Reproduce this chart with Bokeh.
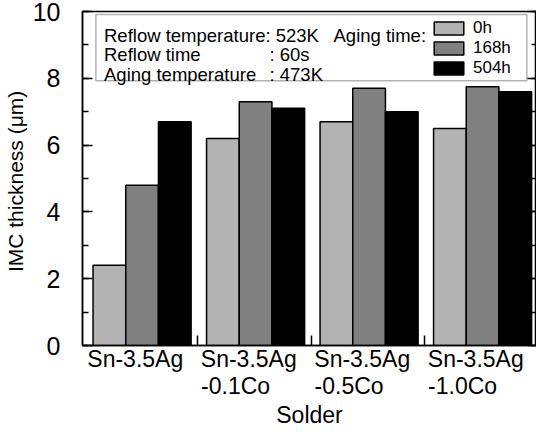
from bokeh.plotting import figure
from bokeh.models import (Range1d, LinearAxis, FixedTicker, SingleIntervalTicker,
                          ColumnDataSource, Label, Legend, LegendItem, BoxAnnotation,
                          CustomJSTickFormatter)
from bokeh.transform import dodge
from bokeh.embed import file_html
from bokeh.resources import INLINE

# ---- data ----
solders = ["Sn-3.5Ag", "Sn-3.5Ag-0.1Co", "Sn-3.5Ag-0.5Co", "Sn-3.5Ag-1.0Co"]
label_line1 = ["Sn-3.5Ag", "Sn-3.5Ag", "Sn-3.5Ag", "Sn-3.5Ag"]
label_line2 = ["", "-0.1Co", "-0.5Co", "-1.0Co"]
x_title = "Solder"
y_title = "IMC thickness  (\u03bcm)"
aging_times = ["0h", "168h", "504h"]
imc_0h = [2.4, 6.2, 6.7, 6.5]
imc_168h = [4.8, 7.3, 7.7, 7.75]
imc_504h = [6.7, 7.1, 7.0, 7.6]
y_ticks_interval = 2

FONT = "Liberation Sans"
n = len(solders)
pos = [i + 0.5 for i in range(n)]          # category centres on a numeric axis

p = figure(width=536, height=430,
           x_range=Range1d(0, n), y_range=Range1d(0, 10),
           x_axis_location=None,
           output_backend="svg", toolbar_location=None,
           min_border_left=77, min_border_right=0, min_border_top=11, min_border_bottom=84)
p.grid.grid_line_color = None
p.outline_line_color = "black"
p.outline_line_width = 1.5
p.background_fill_color = "white"
p.border_fill_color = "white"

# left axis
ya = p.yaxis[0]
ya.ticker = SingleIntervalTicker(interval=y_ticks_interval, num_minor_ticks=2)
ya.axis_label = y_title
ya.axis_label_text_font = FONT
ya.axis_label_text_font_size = "21px"
ya.axis_label_text_font_style = "normal"
ya.axis_label_text_color = "black"
ya.axis_label_standoff = 3
ya.major_label_text_font = FONT
ya.major_label_text_font_size = "25px"
ya.major_label_text_color = "black"
ya.major_label_standoff = 22
ya.major_tick_in = 10
ya.major_tick_out = 0
ya.minor_tick_in = 6
ya.minor_tick_out = 0
ya.axis_line_width = 1.5
ya.major_tick_line_width = 1.5
ya.minor_tick_line_width = 1.5

# right axis (ticks only)
ra = LinearAxis(ticker=SingleIntervalTicker(interval=y_ticks_interval, num_minor_ticks=2),
                formatter=CustomJSTickFormatter(code="return ''"),
                major_label_standoff=0, major_tick_in=9, major_tick_out=0,
                minor_tick_in=5, minor_tick_out=0, axis_line_width=1.5,
                major_tick_line_width=1.5, minor_tick_line_width=1.5)
p.add_layout(ra, "right")

# bottom axis 1: category separators + first line of the solder names
sep = [i + 0.017 for i in range(1, n)]
line1_pos = [i + 0.465 for i in range(n)]
ax1 = LinearAxis(ticker=FixedTicker(ticks=line1_pos, minor_ticks=sep),
                 formatter=CustomJSTickFormatter(args=dict(labels=label_line1),
                                                 code="return labels[index] ?? ''"),
                 major_tick_in=0, major_tick_out=0, minor_tick_in=10, minor_tick_out=0,
                 major_label_standoff=0, axis_line_width=1.5, minor_tick_line_width=1.5,
                 major_label_text_font=FONT, major_label_text_font_size="23px",
                 major_label_text_color="black")
p.add_layout(ax1, "below")

# bottom axis 2: second line of the solder names
line2_pos = [i + 0.349 for i in range(n)]
ax2 = LinearAxis(ticker=FixedTicker(ticks=line2_pos, minor_ticks=[]),
                 formatter=CustomJSTickFormatter(args=dict(labels=label_line2),
                                                 code="return labels[index] ?? ''"),
                 major_tick_in=0, major_tick_out=0, minor_tick_in=0, minor_tick_out=0,
                 major_label_standoff=-2, axis_line_color=None,
                 major_label_text_font=FONT, major_label_text_font_size="23px",
                 major_label_text_color="black")
p.add_layout(ax2, "below")

# bottom axis 3: x-axis title
ax3 = LinearAxis(ticker=FixedTicker(ticks=[n / 2], minor_ticks=[]),
                 formatter=CustomJSTickFormatter(args=dict(t=x_title), code="return t"),
                 major_tick_in=0, major_tick_out=0, minor_tick_in=0, minor_tick_out=0,
                 major_label_standoff=0, axis_line_color=None,
                 major_label_text_font=FONT, major_label_text_font_size="23px",
                 major_label_text_color="black")
p.add_layout(ax3, "below")

# bars
src = ColumnDataSource(dict(pos=pos, solder=solders, h0=imc_0h, h168=imc_168h, h504=imc_504h))
bw = 0.288
r0 = p.vbar(x=dodge("pos", -0.263), top="h0", width=bw, source=src,
            fill_color="#b3b3b3", line_color="black", line_width=1.5)
r1 = p.vbar(x=dodge("pos", 0.025), top="h168", width=bw, source=src,
            fill_color="#808080", line_color="black", line_width=1.5)
r2 = p.vbar(x=dodge("pos", 0.313), top="h504", width=bw, source=src,
            fill_color="#000000", line_color="black", line_width=1.5)

# condition box
box = BoxAnnotation(left=0.118, right=3.915, top=9.91, bottom=7.93,
                    fill_alpha=0, line_color="black", line_width=1.5)
p.add_layout(box)

def lab(txt, x, y):
    p.add_layout(Label(x=x, y=y, x_units="screen", y_units="screen", text=txt,
                       text_font=FONT, text_font_size="18.5px", text_baseline="alphabetic",
                       text_align="left", text_color="black"))

lab("Reflow temperature: 523K", 21.5, 310.5)
lab("Aging time:", 251, 310.5)
lab("Reflow time", 21.5, 291)
lab(": 60s", 187, 291)
lab("Aging temperature", 21.5, 271.5)
lab(": 473K", 187, 271.5)

legend = Legend(items=[LegendItem(label=aging_times[0], renderers=[r0]),
                       LegendItem(label=aging_times[1], renderers=[r1]),
                       LegendItem(label=aging_times[2], renderers=[r2])],
                location=(348, 267), orientation="vertical",
                glyph_width=37, glyph_height=16, label_height=16, spacing=0,
                label_standoff=6, padding=0, margin=0,
                border_line_color=None, background_fill_alpha=0,
                label_text_font=FONT, label_text_font_size="17px",
                label_text_color="black")
p.add_layout(legend, "center")

open("out.html", "w").write(file_html(p, INLINE))
